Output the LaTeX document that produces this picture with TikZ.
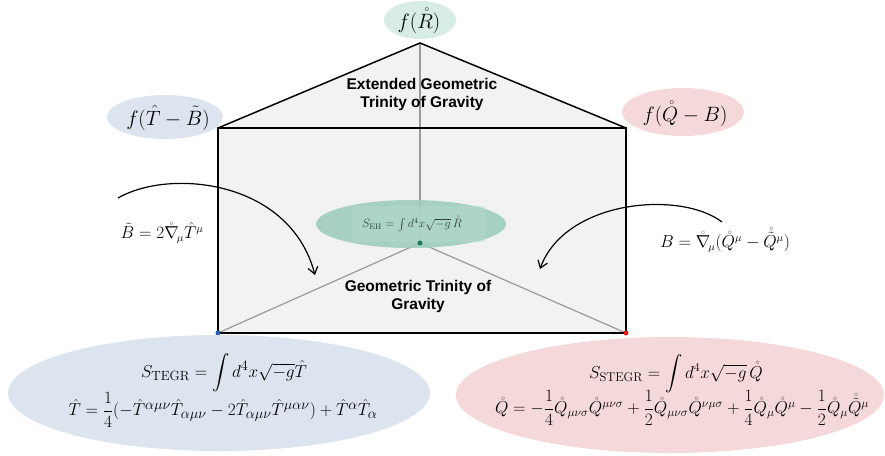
\documentclass[tikz,border=0pt]{standalone}
\usepackage{amsmath}
\usepackage{fontspec}
\newfontfamily\labfont{Liberation Sans}
\usetikzlibrary{shapes.geometric,arrows.meta}
\definecolor{prismfill}{HTML}{F2F2F2}
\definecolor{edgegray}{HTML}{9A9A9A}
\definecolor{tealA}{HTML}{D6ECE4}
\definecolor{tealB}{HTML}{9ECDBD}
\definecolor{tealC}{HTML}{B5DACD}
\definecolor{tealdot}{HTML}{1E7A5A}
\definecolor{blueA}{HTML}{DCE4EF}
\definecolor{pinkA}{HTML}{F5D9DA}
\definecolor{bluedot}{HTML}{2A5DB0}
\definecolor{reddot}{HTML}{E01E1E}
\definecolor{ehtext}{HTML}{33423D}
\tikzset{
  blob/.style={ellipse, inner sep=0pt},
  lab/.style={font=\labfont\bfseries\fontsize{15.5}{18}\selectfont, align=center, inner sep=0pt},
  flab/.style={font=\fontsize{22}{26}\selectfont, inner sep=0pt},
  eqsmall/.style={font=\fontsize{16}{19}\selectfont, inner sep=0pt},
  eqbig/.style={font=\fontsize{19}{23}\selectfont, inner sep=0pt},
  eqright/.style={font=\fontsize{18}{22}\selectfont, inner sep=0pt},
  curvearrow/.style={line width=1.2pt, -{Straight Barb[length=7pt,width=10pt]}},
  inner/.style={edgegray, line width=1.2pt},
  dot/.style={circle, inner sep=0pt, minimum size=5pt}
}
\begin{document}
\begin{tikzpicture}[x=1pt,y=-1pt]
\useasboundingbox (0,0) rectangle (885,455);
% prism corners
\coordinate (apex) at (420,43);
\coordinate (tl) at (218,128);
\coordinate (tr) at (626,128);
\coordinate (bl) at (218,333);
\coordinate (br) at (626,333);
\coordinate (ctr) at (420,243);
% fills
\fill[prismfill] (tl) -- (apex) -- (tr) -- (br) -- (bl) -- cycle;
% inner gray edges
\draw[inner] (apex) -- (ctr);
\draw[inner] (ctr) -- (bl);
\draw[inner] (ctr) -- (br);
% outer black edges
\draw[line width=1.5pt, line join=miter] (tl) -- (apex) -- (tr);
\draw[line width=1.5pt] (tl) rectangle (br);
% top label ellipses
\node[blob, fill=tealA, minimum width=72pt, minimum height=38pt] (fR) at (420,20) {};
\node[flab] (fRt) at (419,21) {$f(\mathring{R})$};
\node[blob, fill=blueA, minimum width=116pt, minimum height=44pt] (fT) at (165,117) {};
\node[flab] (fTt) at (168,118) {$f(\hat{T}-\tilde{B})$};
\node[blob, fill=pinkA, minimum width=122pt, minimum height=48pt] (fQ) at (683,112) {};
\node[flab] (fQt) at (685,114) {$f(\mathring{Q}-B)$};
% texts inside prism
\node[lab] (ext) at (422,94) {Extended Geometric\\Trinity of Gravity};
\node[lab] (geo) at (418,296) {Geometric Trinity of\\Gravity};
% S_EH ellipse
\node[blob, fill=tealB, fill opacity=0.9, minimum width=190pt, minimum height=48pt] (eh) at (411,224) {};
\node[fill=tealC, fill opacity=0.5, minimum width=134pt, minimum height=36pt, inner sep=0pt] (ehbox) at (418,224) {};
\node[font=\fontsize{12}{14}\selectfont, text=ehtext, inner sep=0pt] (eht) at (412,224) {$S_{\mathrm{EH}}=\int d^4x\sqrt{-g}\,\mathring{R}$};
% dots
\node[dot, fill=tealdot] (dc) at (ctr) {};
\node[dot, fill=bluedot] (db) at (bl) {};
\node[dot, fill=reddot] (dr) at (br) {};
% side formulas
\node[eqsmall] (Bt) at (162,233) {$\tilde{B}=2\mathring{\nabla}_{\!\mu}\hat{T}^\mu$};
\node[eqsmall] (Bq) at (725,240) {$B=\mathring{\nabla}_{\!\mu}(\mathring{Q}^\mu-\mathring{\tilde{Q}}^\mu)$};
% curved arrows
\coordinate (la0) at (118,198);
\coordinate (la1) at (315,275);
\coordinate (ra0) at (722,222);
\coordinate (ra1) at (540,269);
\draw[curvearrow] (la0) .. controls (170,168) and (290,180) .. (la1);
\draw[curvearrow] (ra0) .. controls (680,190) and (565,200) .. (ra1);
% bottom ellipses
\node[blob, fill=blueA, minimum width=422pt, minimum height=116pt] (tegr) at (219,393) {};
\node[eqbig] (tegr1) at (224,373) {$S_{\mathrm{TEGR}}=\displaystyle\int d^4x\sqrt{-g}\hat{T}$};
\node[eqbig] (tegr2) at (223,410) {$\hat{T}=\dfrac{1}{4}(-\hat{T}^{\alpha\mu\nu}\hat{T}_{\alpha\mu\nu}-2\hat{T}_{\alpha\mu\nu}\hat{T}^{\mu\alpha\nu})+\hat{T}^{\alpha}\hat{T}_{\alpha}$};
\node[blob, fill=pinkA, minimum width=428pt, minimum height=116pt] (stegr) at (670,395) {};
\node[eqright] (stegr1) at (676,374) {$S_{\mathrm{STEGR}}=\displaystyle\int d^4x\sqrt{-g}\,\mathring{Q}$};
\node[eqright] (stegr2) at (682,408) {$\mathring{Q}=-\dfrac{1}{4}\mathring{Q}_{\mu\nu\sigma}\mathring{Q}^{\mu\nu\sigma}+\dfrac{1}{2}\mathring{Q}_{\mu\nu\sigma}\mathring{Q}^{\nu\mu\sigma}+\dfrac{1}{4}\mathring{Q}_{\mu}\mathring{Q}^{\mu}-\dfrac{1}{2}\mathring{Q}_{\mu}\mathring{\tilde{Q}}^{\mu}$};
\end{tikzpicture}
\end{document}
